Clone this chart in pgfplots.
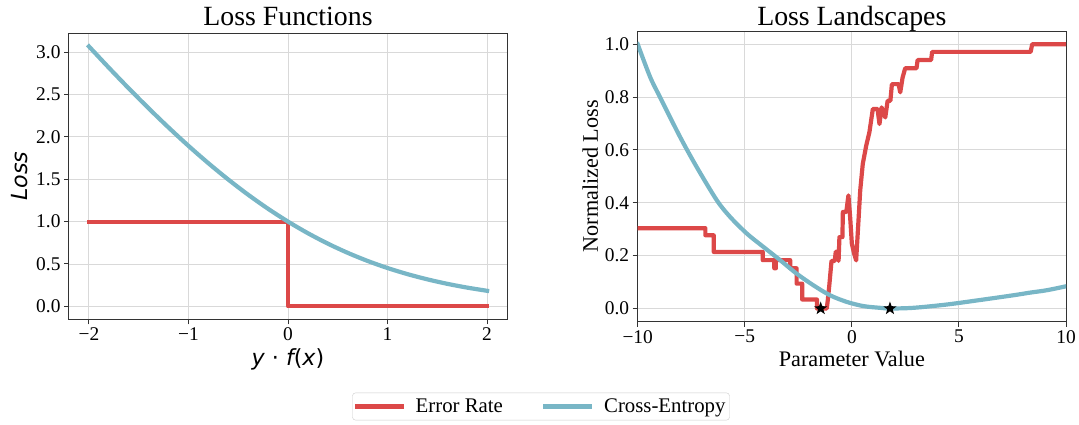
\documentclass[border=0pt]{standalone}
\usepackage{fontspec}
\setmainfont{Liberation Serif}
\newfontfamily\dejavu{DejaVu Sans}
\usepackage{pgfplots}
\pgfplotsset{compat=1.18}

\definecolor{errred}{HTML}{DC4848}
\definecolor{ceblue}{HTML}{78B6C6}

\newcommand\tickfont{\fontsize{19.4}{23}\selectfont}
\newcommand\labelfont{\fontsize{22.2}{26}\selectfont}
\newcommand\titlefont{\fontsize{27.8}{32}\selectfont}
\newcommand\legendfont{\fontsize{20.8}{24}\selectfont}

% filled five-pointed star used for the minima
\pgfdeclareplotmark{fstar}{%
  \pgfpathmoveto{\pgfpointpolar{90}{\pgfplotmarksize}}%
  \pgfpathlineto{\pgfpointpolar{126}{0.40\pgfplotmarksize}}%
  \pgfpathlineto{\pgfpointpolar{162}{\pgfplotmarksize}}%
  \pgfpathlineto{\pgfpointpolar{198}{0.40\pgfplotmarksize}}%
  \pgfpathlineto{\pgfpointpolar{234}{\pgfplotmarksize}}%
  \pgfpathlineto{\pgfpointpolar{270}{0.40\pgfplotmarksize}}%
  \pgfpathlineto{\pgfpointpolar{306}{\pgfplotmarksize}}%
  \pgfpathlineto{\pgfpointpolar{342}{0.40\pgfplotmarksize}}%
  \pgfpathlineto{\pgfpointpolar{18}{\pgfplotmarksize}}%
  \pgfpathlineto{\pgfpointpolar{54}{0.40\pgfplotmarksize}}%
  \pgfpathclose
  \pgfusepathqfill}

\pgfplotsset{
  lossaxis/.style={
    scale only axis,
    axis line style={black!80, line width=1pt},
    tick align=outside, tick pos=left,
    major tick length=5pt,
    major tick style={black!80, line width=1pt},
    grid=major,
    major grid style={black!15, line width=0.9pt},
    tick label style={font=\tickfont},
    label style={font=\labelfont},
    title style={font=\titlefont, at={(0.5,1)}, anchor=base},
  },
  errline/.style={errred, line width=4.2pt, line join=round, line cap=rect},
  celine/.style={ceblue, line width=4.2pt, line join=round, line cap=rect},
}

\begin{document}
\begin{tikzpicture}
\useasboundingbox (0,0) rectangle (1079pt,424pt);

% ---- left panel: 0-1 loss and logistic loss against the margin
\begin{axis}[lossaxis,
  at={(69pt,104.7pt)}, anchor=south west,
  width=438pt, height=286pt,
  xmin=-2.2, xmax=2.2, ymin=-0.1535, ymax=3.2235,
  xtick={-2,-1,0,1,2}, xticklabels={−2,−1,0,1,2},
  ytick={0,0.5,1,1.5,2,2.5,3},
  yticklabels={0.0,0.5,1.0,1.5,2.0,2.5,3.0},
  title={Loss Functions},
  title style={yshift=2pt},
  xlabel={\dejavu\itshape y \upshape⋅ \itshape f\upshape(\itshape x\upshape)},
  ylabel={\dejavu\itshape Loss},
  xlabel style={at={(axis description cs:0.5,-0.163)}, anchor=base},
  ylabel style={at={(axis description cs:-0.112,0.5)}, anchor=center},
]
\addplot[errline] coordinates {(-2,1) (0,1) (0,0) (2,0)};
\addplot[celine, smooth] coordinates {
  (-2.0,3.0687) (-1.8,2.8177) (-1.6,2.5735) (-1.4,2.3379) (-1.2,2.1112)
  (-1.0,1.8946) (-0.8,1.6896) (-0.6,1.4969) (-0.4,1.3172) (-0.2,1.1514)
  (0.0,1.0000) (0.2,0.8629) (0.4,0.7401) (0.6,0.6312) (0.8,0.5354)
  (1.0,0.4520) (1.2,0.3799) (1.4,0.3182) (1.6,0.2654) (1.8,0.2207)
  (2.0,0.1831)};
\end{axis}

% ---- right panel: normalized losses along one parameter direction
\begin{axis}[lossaxis,
  at={(637.7pt,102.3pt)}, anchor=south west,
  width=428.3pt, height=290.7pt,
  xmin=-10, xmax=10, ymin=-0.05, ymax=1.05,
  xtick={-10,-5,0,5,10}, xticklabels={−10,−5,0,5,10},
  ytick={0,0.2,0.4,0.6,0.8,1},
  yticklabels={0.0,0.2,0.4,0.6,0.8,1.0},
  title={Loss Landscapes},
  title style={yshift=0pt},
  xlabel={Parameter Value},
  ylabel={Normalized Loss},
  xlabel style={at={(axis description cs:0.5,-0.155)}, anchor=base},
  ylabel style={at={(axis description cs:-0.111,0.5)}, anchor=center},
  legend columns=2,
  legend image code/.code={\draw[#1] (0pt,0pt) -- (45pt,0pt);},
  legend style={at={(-0.2258,-0.2917)}, anchor=center,
    draw=black!20, rounded corners=3pt, fill=white,
    font=\legendfont, inner xsep=2pt, inner ysep=4pt,
    /tikz/every odd column/.append style={column sep=10pt},
    /tikz/every even column/.append style={column sep=38pt}},
]
\addplot[errline] coordinates {
  (-10,0.304) (-6.84,0.304) (-6.84,0.277) (-6.45,0.277) (-6.45,0.214)
  (-4.16,0.214) (-4.16,0.183) (-3.62,0.183) (-3.62,0.152) (-3.55,0.152)
  (-3.55,0.183) (-2.88,0.183) (-2.88,0.152) (-2.58,0.152) (-2.58,0.094)
  (-2.32,0.094) (-2.32,0.034) (-1.63,0.034) (-1.63,0.0) (-1.17,0.0)
  (-1.12,0.034) (-1.05,0.090) (-0.95,0.180) (-0.80,0.180) (-0.75,0.215)
  (-0.68,0.215) (-0.62,0.180) (-0.58,0.270) (-0.44,0.270) (-0.42,0.365)
  (-0.26,0.365) (-0.16,0.428) (-0.08,0.346) (0.00,0.245) (0.10,0.210)
  (0.20,0.182) (0.31,0.333) (0.39,0.446) (0.51,0.547) (0.67,0.616)
  (0.82,0.667) (0.98,0.755) (1.20,0.755) (1.29,0.698) (1.39,0.761)
  (1.56,0.723) (1.67,0.786) (1.80,0.786) (1.87,0.849) (2.18,0.849)
  (2.26,0.818) (2.37,0.874) (2.49,0.909) (3.02,0.909) (3.07,0.940)
  (3.70,0.940) (3.75,0.971) (8.35,0.971) (8.42,1.0) (10,1.0)};
\addlegendentry{Error Rate}
\addplot[celine, smooth] coordinates {
  (-10,1.0) (-9.42,0.876) (-8.96,0.80) (-8.02,0.649) (-7.25,0.536)
  (-6.31,0.41) (-5.69,0.347) (-4.91,0.284) (-4.13,0.233) (-3.35,0.183)
  (-2.58,0.132) (-1.80,0.088) (-1.02,0.050) (-0.24,0.025) (0.54,0.009)
  (1.32,0.0025) (1.78,0.0) (2.87,0.0025) (4.43,0.015) (5.98,0.032)
  (7.54,0.050) (8.32,0.060) (9.10,0.069) (10,0.084)};
\addlegendentry{Cross-Entropy}
\addplot[only marks, mark=fstar, mark size=7pt, black, forget plot]
  coordinates {(-1.455,0) (1.78,0)};
\end{axis}
\end{tikzpicture}
\end{document}
